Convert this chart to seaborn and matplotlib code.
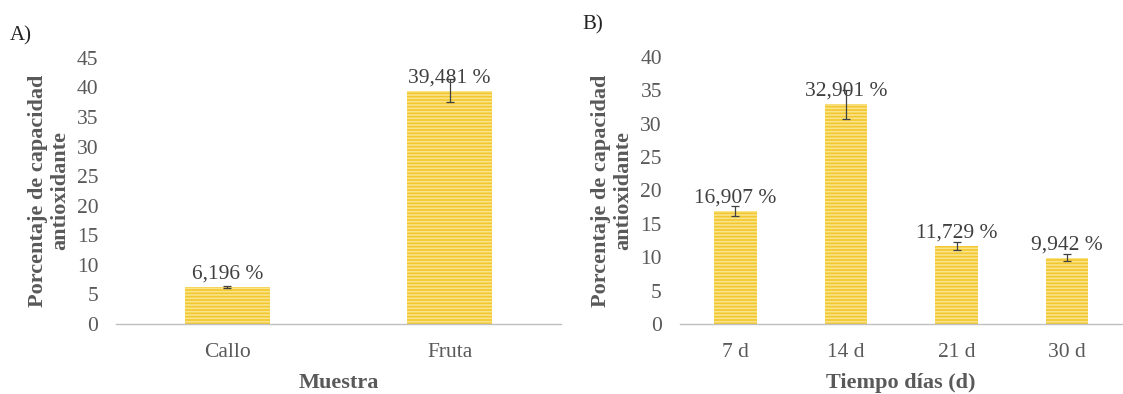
import matplotlib
matplotlib.use("Agg")
import matplotlib.pyplot as plt
import seaborn as sns
import pandas as pd

# Data
muestras = ["Callo", "Fruta"]
capacidad_a = [6.196, 39.481]
error_a = [0.2, 1.9]

tiempos = ["7 d", "14 d", "21 d", "30 d"]
capacidad_b = [16.907, 32.901, 11.729, 9.942]
error_b = [0.8, 2.2, 0.6, 0.5]

sns.set_theme(style="white")
plt.rcParams["font.family"] = ["Liberation Serif", "DejaVu Serif"]
plt.rcParams["hatch.linewidth"] = 1.2

GRAY = "#595959"
BAR = "#F2C62E"
STRIPE = "#F9E48A"
FS = 15.5

fig = plt.figure(figsize=(11.23, 3.94), dpi=100)
axA = fig.add_axes([0.1037, 0.178, 0.3955, 0.675])
axB = fig.add_axes([0.6055, 0.178, 0.394, 0.677])


def draw(ax, cats, vals, errs, ymax, xlabel):
    df = pd.DataFrame({"cat": cats, "val": vals})
    sns.barplot(data=df, x="cat", y="val", ax=ax, color=BAR, width=0.385,
                saturation=1, errorbar=None)
    for p in ax.patches:
        p.set_hatch("-----")
        p.set_edgecolor(STRIPE)
        p.set_linewidth(0)
    ax.errorbar(range(len(cats)), vals, yerr=errs, fmt="none",
                ecolor="#404040", elinewidth=0.9, capsize=3, capthick=0.9)
    for i, (v, e) in enumerate(zip(vals, errs)):
        ax.annotate(f"{v:.3f}".replace(".", ",") + " %", (i, v),
                    xytext=(0, 2.5), textcoords="offset points",
                    ha="center", va="bottom", fontsize=FS, color="#404040",
                    zorder=1)
    ax.set_ylim(0, ymax)
    ax.set_yticks(range(0, ymax + 1, 5))
    ax.set_xlim(-0.5, len(cats) - 0.5)
    for s in ["top", "right", "left"]:
        ax.spines[s].set_visible(False)
    ax.spines["bottom"].set_color("#BFBFBF")
    ax.spines["bottom"].set_linewidth(1.0)
    ax.tick_params(axis="both", length=0, labelsize=FS, labelcolor=GRAY)
    ax.tick_params(axis="y", pad=13)
    ax.tick_params(axis="x", pad=14)
    ax.set_xlabel(xlabel, fontsize=16, fontweight="bold", color=GRAY, labelpad=8)
    ax.set_ylabel("Porcentaje de capacidad\nantioxidante", fontsize=16,
                  fontweight="bold", color=GRAY, labelpad=5, linespacing=1.15)


draw(axA, muestras, capacidad_a, error_a, 45, "Muestra")
draw(axB, tiempos, capacidad_b, error_b, 40, "Tiempo días (d)")

fig.text(0.009, 0.910, "A)", fontsize=15, color="#222222", va="center")
fig.text(0.519, 0.936, "B)", fontsize=15, color="#222222", va="center")

fig.savefig("out.png", dpi=100)
